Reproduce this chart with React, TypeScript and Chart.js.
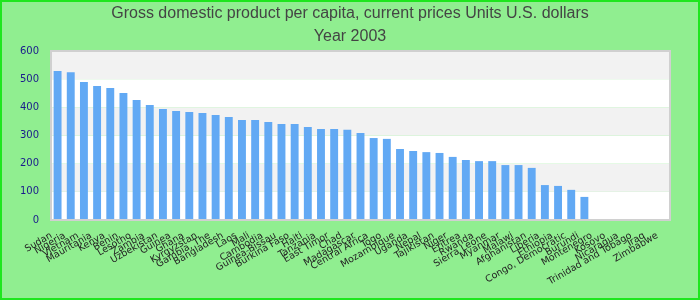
import React, { useEffect, useRef } from "react";
import { Chart, registerables } from "chart.js";

Chart.register(...registerables);

const titleLines = ["Gross domestic product per capita, current prices Units U.S. dollars", "Year 2003"];

const categories = [
  "Sudan", "Nigeria", "Vietnam", "Mauritania", "Kenya", "Benin", "Lesotho", "Zambia",
  "Uzbekistan", "Guinea", "Ghana", "Kyrgyzstan", "Gambia, The", "Bangladesh", "Laos", "Mali",
  "Cambodia", "Guinea-Bissau", "Burkina Faso", "Haiti", "Tanzania", "East Timor", "Chad",
  "Madagascar", "Central Africa", "Togo", "Mozambique", "Uganda", "Nepal", "Tajikistan",
  "Niger", "Eritrea", "Rwanda", "Sierra Leone", "Myanmar", "Malawi", "Afghanistan", "Liberia",
  "Ethiopia", "Congo, Democratic", "Burundi", "Montenegro", "Kosovo", "Nicaragua",
  "Trinidad and Tobago", "Iraq", "Zimbabwe",
];

const gdpValues: (number | null)[] = [
  529, 525, 490, 476, 469, 451, 426, 408, 394, 387, 383, 380, 373, 366, 355, 355,
  348, 341, 341, 330, 323, 323, 320, 309, 291, 288, 252, 245, 241, 238, 224, 213,
  209, 209, 195, 195, 185, 124, 121, 107, 82, null, null, null, null, null, null,
];

const yMin = 0;
const yMax = 600;
const yStep = 100;

const backgroundPlugin = {
  id: "customBackground",
  beforeDraw(chart: any) {
    const { ctx, chartArea, scales } = chart;
    const w = chart.width;
    const h = chart.height;
    ctx.save();
    ctx.fillStyle = "#90ee90";
    ctx.fillRect(0, 0, w, h);
    ctx.strokeStyle = "#1ee61e";
    ctx.lineWidth = 2;
    ctx.strokeRect(1, 1, w - 2, h - 2);
    const y = scales.y;
    for (let v = yMin; v < yMax; v += yStep) {
      const top = y.getPixelForValue(v + yStep);
      const bot = y.getPixelForValue(v);
      const idx = Math.round(v / yStep);
      ctx.fillStyle = idx % 2 === 1 ? "#f2f2f2" : "#ffffff";
      ctx.fillRect(chartArea.left, top, chartArea.right - chartArea.left, bot - top);
    }
    ctx.fillStyle = "#444444";
    ctx.font = "16px 'Liberation Sans', Arial, sans-serif";
    ctx.textAlign = "center";
    ctx.textBaseline = "middle";
    ctx.fillText(titleLines[0], w / 2, 14);
    ctx.fillText(titleLines[1], w / 2, 37);
    ctx.restore();
  },
  afterDatasetsDraw(chart: any) {
    const { ctx, chartArea } = chart;
    ctx.save();
    ctx.strokeStyle = "#d0d0d0";
    ctx.lineWidth = 2;
    ctx.strokeRect(chartArea.left, chartArea.top, chartArea.right - chartArea.left, chartArea.bottom - chartArea.top);
    ctx.restore();
  },
};

export default function App() {
  const ref = useRef<HTMLCanvasElement | null>(null);
  useEffect(() => {
    document.body.style.margin = "0";
    if (!ref.current) return;
    const chart = new Chart(ref.current, {
      type: "bar",
      data: {
        labels: categories,
        datasets: [
          {
            data: gdpValues,
            backgroundColor: "#62a9f4",
            borderWidth: 0,
            barPercentage: 0.6,
            categoryPercentage: 1,
          },
        ],
      },
      options: {
        responsive: false,
        animation: false,
        devicePixelRatio: 1,
        layout: { padding: { top: 51, right: 30, left: 0, bottom: 0 } },
        plugins: {
          legend: { display: false },
          title: { display: false },
          tooltip: { enabled: false },
        },
        scales: {
          x: {
            grid: { display: false, drawTicks: true, tickLength: 6 },
            border: { display: false },
            ticks: {
              autoSkip: false,
              minRotation: 30,
              maxRotation: 30,
              color: "#222222",
              padding: 4,
              labelOffset: -6,
              font: { family: "'DejaVu Sans'", size: 9.5 },
            },
            afterFit(scale: any) {
              scale.height = 80;
              scale.paddingLeft = 0;
              scale.paddingRight = 0;
            },
          },
          y: {
            min: yMin,
            max: yMax,
            grid: { display: false, drawTicks: true, tickLength: 8 },
            border: { display: false },
            ticks: {
              stepSize: yStep,
              color: "#1a1a8c",
              padding: 4,
              font: { family: "'DejaVu Sans'", size: 10 },
            },
            afterFit(scale: any) {
              scale.width = 51;
              scale.paddingTop = 0;
              scale.paddingBottom = 0;
            },
          },
        },
      },
      plugins: [backgroundPlugin],
    });
    return () => chart.destroy();
  }, []);
  return (
    <div style={{ width: 700, height: 300 }}>
      <canvas ref={ref} width={700} height={300} style={{ display: "block" }} />
    </div>
  );
}
